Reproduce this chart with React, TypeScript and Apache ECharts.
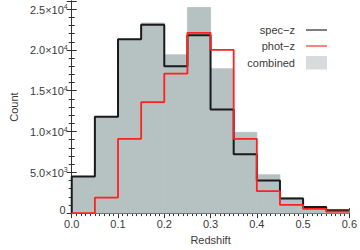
import React, { useEffect, useRef } from "react";
import * as echarts from "echarts";

const binEdges = [0, 0.05, 0.1, 0.15, 0.2, 0.25, 0.3, 0.35, 0.4, 0.45, 0.5, 0.55, 0.6];
const specZ = [4500, 11800, 21300, 23100, 18000, 21800, 12700, 7200, 4000, 1800, 740, 350];
const photZ = [0, 1900, 9100, 13600, 17100, 22100, 20000, 9100, 2700, 1000, 510, 170];
const combined = [4500, 11800, 21300, 23300, 19400, 25200, 17700, 9900, 4700, 1900, 820, 380];
const seriesNames = ["spec\u2212z", "phot\u2212z", "combined"];

const FONT = "'Liberation Sans', Arial, Helvetica, sans-serif";
const TXT = "#3a3a3a";
const FILL = "#b6c2c1";
const LEGEND_FILL = "#d6dcdc";

function stepPoints(vals: number[]) {
  const pts: number[][] = [[binEdges[0], 0]];
  vals.forEach((v, i) => pts.push([binEdges[i], v]));
  pts.push([binEdges[vals.length], vals[vals.length - 1]]);
  return pts;
}

function yFmt(v: number) {
  if (v === 0) return "{z|0}";
  const exp = Math.floor(Math.log10(v) + 1e-9);
  const m = v / Math.pow(10, exp);
  return `{b|${m.toFixed(1)}\u00d710}{sup|${exp}}`;
}

export default function App() {
  const ref = useRef<HTMLDivElement>(null);
  useEffect(() => {
    if (!ref.current) return;
    const chart = echarts.init(ref.current, null, { renderer: "svg" });
    const axisLine = { show: true, lineStyle: { color: "#333", width: 1 } };
    const option: any = {
      animation: false,
      backgroundColor: "#fff",
      grid: { left: 60, right: 8, top: 1, bottom: 28 },
      xAxis: [
        {
          type: "value",
          min: 0,
          max: 0.6,
          interval: 0.1,
          position: "bottom",
          axisLine,
          axisTick: { show: true, inside: true, length: 5, lineStyle: { color: "#333" } },
          minorTick: { show: true, splitNumber: 10, length: 3, lineStyle: { color: "#333" } },
          splitLine: { show: false },
          axisLabel: {
            margin: 5,
            color: TXT,
            fontSize: 11,
            fontFamily: FONT,
            formatter: (v: number) => v.toFixed(1),
          },
          name: "Redshift",
          nameLocation: "middle",
          nameGap: 20,
          nameTextStyle: { color: TXT, fontSize: 11, fontFamily: FONT },
        },
        {
          type: "value",
          min: 0,
          max: 0.6,
          interval: 0.1,
          position: "top",
          axisLine,
          axisTick: { show: true, inside: true, length: 5, lineStyle: { color: "#333" } },
          minorTick: { show: true, splitNumber: 10, length: 3, lineStyle: { color: "#333" } },
          splitLine: { show: false },
          axisLabel: { show: false },
        },
      ],
      yAxis: [
        {
          type: "value",
          min: 0,
          max: 26000,
          interval: 5000,
          position: "left",
          axisLine,
          axisTick: { show: true, inside: true, length: 5, lineStyle: { color: "#333" } },
          minorTick: { show: true, splitNumber: 5, length: 3, lineStyle: { color: "#333" } },
          splitLine: { show: false },
          axisLabel: {
            margin: 4,
            showMaxLabel: false,
            formatter: yFmt,
            rich: {
              b: { fontSize: 11, color: TXT, fontFamily: FONT, lineHeight: 12, verticalAlign: "bottom" },
              sup: { fontSize: 7, color: TXT, fontFamily: FONT, lineHeight: 12, verticalAlign: "top" },
              z: { fontSize: 11, color: TXT, fontFamily: FONT, lineHeight: 12, padding: [0, 2, 7, 0] },
            },
          },
          name: "Count",
          nameLocation: "middle",
          nameGap: 50,
          nameRotate: 90,
          nameTextStyle: { color: TXT, fontSize: 11, fontFamily: FONT },
        },
        {
          type: "value",
          min: 0,
          max: 26000,
          interval: 5000,
          position: "right",
          axisLine,
          axisTick: { show: true, inside: true, length: 5, lineStyle: { color: "#333" } },
          minorTick: { show: true, splitNumber: 5, length: 3, lineStyle: { color: "#333" } },
          splitLine: { show: false },
          axisLabel: { show: false },
        },
      ],
      series: [
        {
          name: seriesNames[2],
          type: "custom",
          xAxisIndex: 0,
          yAxisIndex: 0,
          z: 1,
          data: combined.map((v, i) => [binEdges[i], binEdges[i + 1], v]),
          encode: { x: [0, 1], y: 2 },
          renderItem: (params: any, api: any) => {
            const p0 = api.coord([api.value(0), api.value(2)]);
            const p1 = api.coord([api.value(1), 0]);
            return {
              type: "rect",
              shape: { x: p0[0], y: p0[1], width: p1[0] - p0[0], height: p1[1] - p0[1] },
              style: { fill: FILL, stroke: FILL, lineWidth: 0.8 },
            };
          },
        },
        {
          name: seriesNames[0],
          type: "line",
          step: "end",
          z: 3,
          symbol: "none",
          data: stepPoints(specZ),
          lineStyle: { color: "#1a1a1a", width: 2 },
        },
        {
          name: seriesNames[1],
          type: "line",
          step: "end",
          z: 4,
          symbol: "none",
          data: stepPoints(photZ),
          lineStyle: { color: "#ff2020", width: 1.8 },
        },
      ],
      graphic: [
        {
          type: "text",
          x: 295,
          y: 30,
          style: { text: seriesNames[0], fill: TXT, font: `11px ${FONT}`, textAlign: "right", textVerticalAlign: "middle" },
        },
        {
          type: "text",
          x: 295,
          y: 46,
          style: { text: seriesNames[1], fill: TXT, font: `11px ${FONT}`, textAlign: "right", textVerticalAlign: "middle" },
        },
        {
          type: "text",
          x: 295,
          y: 62.5,
          style: { text: seriesNames[2], fill: TXT, font: `11px ${FONT}`, textAlign: "right", textVerticalAlign: "middle" },
        },
        { type: "line", shape: { x1: 306, y1: 30, x2: 327, y2: 30 }, style: { stroke: "#555", lineWidth: 1.5 } },
        { type: "line", shape: { x1: 306, y1: 46, x2: 327, y2: 46 }, style: { stroke: "#ff3030", lineWidth: 1.2 } },
        { type: "rect", shape: { x: 306, y: 56, width: 21, height: 13.5 }, style: { fill: LEGEND_FILL } },
      ],
    };
    chart.setOption(option);
    return () => chart.dispose();
  }, []);
  return (
    <div
      ref={ref}
      style={{ position: "fixed", left: 0, top: 0, width: 360, height: 250 }}
    />
  );
}
